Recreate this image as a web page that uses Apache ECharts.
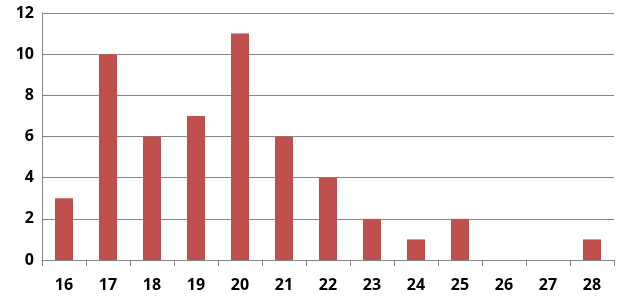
<!DOCTYPE html>
<html><head><meta charset="utf-8">
<script src="https://cdn.jsdelivr.net/npm/echarts@6/dist/echarts.min.js"></script>
<style>html,body{margin:0;padding:0;background:#fff}#c{width:620px;height:300px}</style>
</head><body><div id="c"></div>
<script>
const categories = ['16','17','18','19','20','21','22','23','24','25','26','27','28'];
const values = [3,10,6,7,11,6,4,2,1,2,0,0,1];
const yTicks = [0,2,4,6,8,10,12];

const font = '"Open Sans", "Liberation Sans", sans-serif';
const chart = echarts.init(document.getElementById('c'), null, {renderer:'canvas'});
chart.setOption({
  animation:false,
  grid:{left:42,right:6,top:13,bottom:40},
  xAxis:{
    type:'category', data:categories,
    axisLine:{lineStyle:{color:'#868686',width:1}},
    axisTick:{show:true,length:6,lineStyle:{color:'#868686'}},
    axisLabel:{color:'#000',fontSize:16,fontWeight:'bold',fontFamily:font,margin:17}
  },
  yAxis:{
    type:'value', min:yTicks[0], max:yTicks[yTicks.length-1], interval:2,
    axisLine:{show:true,lineStyle:{color:'#868686'}},
    axisTick:{show:false},
    splitLine:{lineStyle:{color:'#868686',width:1}},
    axisLabel:{color:'#000',fontSize:16,fontWeight:'bold',fontFamily:font,margin:8}
  },
  series:[{type:'bar',data:values,barWidth:18,itemStyle:{color:'#c0504d'}}]
});
</script></body></html>
